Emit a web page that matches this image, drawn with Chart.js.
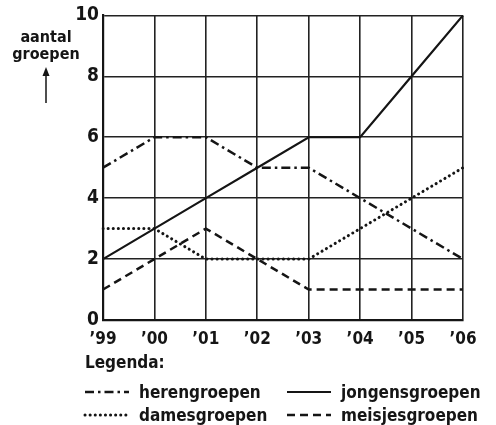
<!DOCTYPE html>
<html>
<head>
<meta charset="utf-8">
<script src="https://cdn.jsdelivr.net/npm/chart.js@4/dist/chart.umd.min.js"></script>
<style>
  html, body { margin: 0; padding: 0; background: #fff; }
</style>
</head>
<body>
<canvas id="grafiekGroepen" width="496" height="425"></canvas>
<script>
// gegevens
var jaren = ["\u201999", "\u201900", "\u201901", "\u201902", "\u201903", "\u201904", "\u201905", "\u201906"];
var herengroepen = [5, 6, 6, 5, 5, 4, 3, 2];
var jongensgroepen = [2, 3, 4, 5, 6, 6, 8, 10];
var damesgroepen = [3, 3, 2, 2, 2, 3, 4, 5];
var meisjesgroepen = [1, 2, 3, 2, 1, 1, 1, 1];
var yMin = 0, yMax = 10, yStap = 2;

var FONT = "'DejaVu Sans Condensed', 'Liberation Sans Narrow', sans-serif";
var INKT = '#151515';

/**
* Plugin die de astitel, de pijl en de legenda tekent
*/
var legendaPlugin = {
  id: 'legenda',
  afterDraw: function (chart)
  {
    var ctx = chart.ctx;
    ctx.save();
    ctx.fillStyle = INKT;
    ctx.strokeStyle = INKT;

    // astitel met pijl
    ctx.font = 'bold 16px ' + FONT;
    ctx.textAlign = 'center';
    ctx.fillText('aantal', 46, 42);
    ctx.fillText('groepen', 46, 59);
    ctx.lineWidth = 1.5;
    ctx.beginPath();
    ctx.moveTo(46, 103);
    ctx.lineTo(46, 72);
    ctx.stroke();
    ctx.beginPath();
    ctx.moveTo(42.5, 76);
    ctx.lineTo(46, 67);
    ctx.lineTo(49.5, 76);
    ctx.closePath();
    ctx.fill();

    // legenda
    ctx.textAlign = 'left';
    ctx.font = 'bold 17px ' + FONT;
    ctx.fillText('Legenda:', 85, 368);
    var plek = [[85, 392], [287, 392], [85, 415], [287, 415]];
    chart.data.datasets.forEach(function (ds, i) {
      var p = plek[i];
      ctx.setLineDash(ds.borderDash || []);
      ctx.lineWidth = ds.borderWidth;
      ctx.lineCap = ds.borderCapStyle || 'butt';
      ctx.beginPath();
      ctx.moveTo(p[0], p[1]);
      ctx.lineTo(p[0] + 44, p[1]);
      ctx.stroke();
      ctx.setLineDash([]);
      ctx.fillText(ds.label, p[0] + 54, p[1] + 6);
    });
    ctx.restore();
  }
};

var chartdata = {
  labels: jaren,
  datasets: [
    {
      label: 'herengroepen',
      data: herengroepen,
      borderColor: INKT,
      borderWidth: 2.5,
      borderDash: [9, 4, 2.5, 4],
      pointRadius: 0
    },
    {
      label: 'jongensgroepen',
      data: jongensgroepen,
      borderColor: INKT,
      borderWidth: 2.2,
      pointRadius: 0
    },
    {
      label: 'damesgroepen',
      data: damesgroepen,
      borderColor: INKT,
      borderWidth: 3,
      borderDash: [0.1, 5],
      borderCapStyle: 'round',
      pointRadius: 0
    },
    {
      label: 'meisjesgroepen',
      data: meisjesgroepen,
      borderColor: INKT,
      borderWidth: 2.5,
      borderDash: [8, 5],
      pointRadius: 0
    }
  ]
};

var grafiek = new Chart(document.getElementById('grafiekGroepen'), {
  type: 'line',
  data: chartdata,
  plugins: [legendaPlugin],
  options: {
    responsive: false,
    animation: false,
    devicePixelRatio: 1,
    layout: { padding: { top: 15, right: 33, left: 0, bottom: 0 } },
    plugins: {
      legend: { display: false },
      tooltip: { enabled: false }
    },
    scales: {
      x: {
        afterFit: function (s) { s.height = 105; },
        grid: { color: '#222', lineWidth: 1.6, drawTicks: false },
        border: { color: INKT, width: 2.2 },
        ticks: {
          color: INKT,
          padding: 9,
          maxRotation: 0,
          font: { family: FONT, size: 17, weight: 'bold' }
        }
      },
      y: {
        min: yMin,
        max: yMax,
        afterFit: function (s) { s.width = 103; },
        grid: { color: '#222', lineWidth: 1.6, drawTicks: false },
        border: { color: INKT, width: 2.2 },
        ticks: {
          stepSize: yStap,
          color: INKT,
          padding: 4,
          font: { family: FONT, size: 19, weight: 'bold' }
        }
      }
    }
  }
});
</script>
</body>
</html>
